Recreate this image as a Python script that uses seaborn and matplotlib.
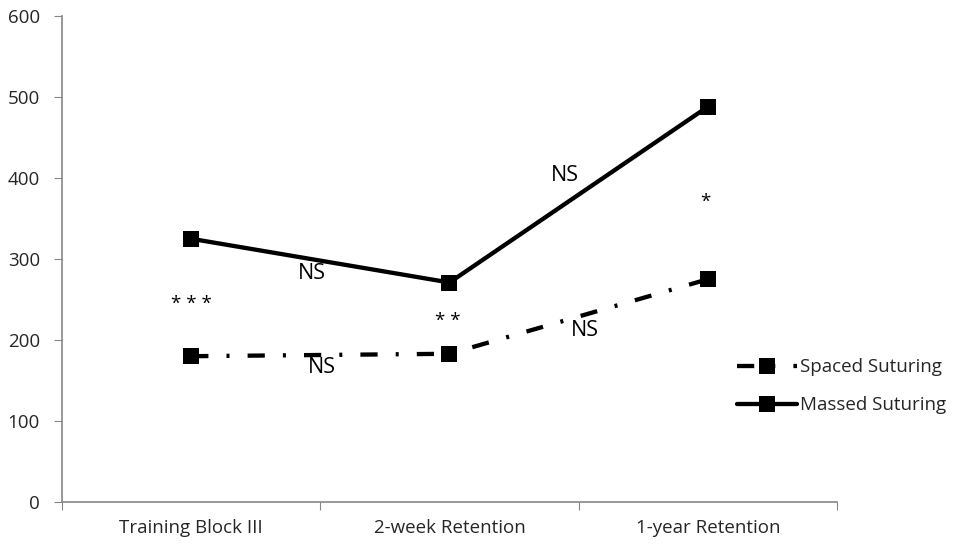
import matplotlib
matplotlib.use("Agg")
import matplotlib.pyplot as plt
import seaborn as sns
import pandas as pd

categories = ["Training Block III", "2-week Retention", "1-year Retention"]
spaced = [180, 183, 275]
massed = [325, 271, 488]
series_names = ["Spaced Suturing", "Massed Suturing"]
y_ticks = [0, 100, 200, 300, 400, 500, 600]

df = pd.DataFrame({
    "cond": categories * 2,
    "val": spaced + massed,
    "group": [series_names[0]] * 3 + [series_names[1]] * 3,
})

sns.set_style("white")
plt.rcParams["font.family"] = ["Open Sans", "DejaVu Sans"]

fig = plt.figure(figsize=(9.62, 5.45), dpi=100)
ax = fig.add_axes([0.0645, 0.0789, 0.8055, 0.8917])

sns.lineplot(
    data=df, x="cond", y="val", hue="group", style="group",
    palette={series_names[0]: "black", series_names[1]: "black"},
    dashes={series_names[0]: (4, 4.2, 0.7, 4.2), series_names[1]: ""},
    markers={series_names[0]: "s", series_names[1]: "s"},
    markersize=12, linewidth=3.1, markeredgewidth=0, ax=ax,
    sort=False, legend=True,
)

ax.set_xlim(-0.5, 2.5)
ax.set_ylim(0, 600)
ax.set_yticks(y_ticks)
ax.set_yticklabels([str(v) for v in y_ticks])
ax.set_xticks([-0.5, 0.5, 1.5, 2.5])
ax.set_xticklabels([])
ax.set_xticks([0, 1, 2], minor=True)
ax.set_xticklabels(categories, minor=True)
ax.tick_params(axis="x", which="minor", length=0, pad=12, labelsize=13.5)
ax.tick_params(axis="x", which="major", length=6, color="#868686", direction="out", bottom=True)
ax.tick_params(axis="y", length=6, color="#868686", direction="out", left=True, labelsize=13.5, pad=10)
ax.set_xlabel("")
ax.set_ylabel("")
for s in ["top", "right"]:
    ax.spines[s].set_visible(False)
for s in ["left", "bottom"]:
    ax.spines[s].set_color("#868686")
    ax.spines[s].set_linewidth(1.2)

annos = [
    ("NS", 0.468, 282), ("NS", 0.507, 166), ("NS", 1.447, 403), ("NS", 1.524, 212),
    ("* * *", 0.0, 245), ("* *", 0.994, 223), ("*", 1.99, 371),
]
for t, x, y in annos:
    ax.text(x, y, t, ha="center", va="center", fontsize=15.5 if "NS" in t else 13.5,
            color="black")

leg = ax.legend(loc="center left", bbox_to_anchor=(0.871, 0.238), frameon=False,
                handlelength=3.2, fontsize=13.5, labelspacing=1.05, handletextpad=0.15,
                borderaxespad=0, borderpad=0)
for h in leg.legend_handles:
    h.set_markersize(12)
fig.savefig("out.png", dpi=100)
